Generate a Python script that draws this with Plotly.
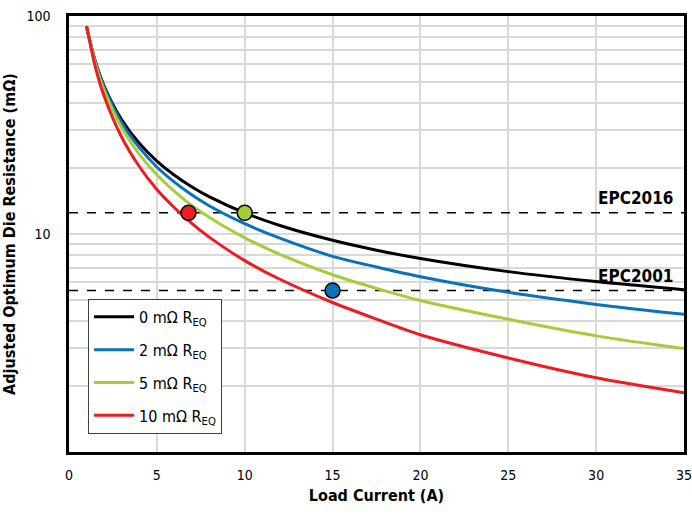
import math
import plotly.graph_objects as go

current = [1, 1.5, 2, 3, 4, 5, 6, 7, 8, 10, 12, 15, 17.5, 20, 25, 30, 35]
r_0m = [89, 61.8, 47.7, 33.4, 26.05, 21.6, 18.6, 16.44, 14.81, 12.5, 10.94, 9.36, 8.43, 7.72, 6.72, 6.05, 5.55]
r_2m = [89.5, 61.7, 47.2, 32.4, 24.9, 20.3, 17.3, 15.1, 13.45, 11.15, 9.57, 7.9, 7.06, 6.37, 5.40, 4.75, 4.28]
r_5m = [90, 60.5, 45.6, 30.7, 23.2, 18.7, 15.7, 13.5, 11.9, 9.6, 8.07, 6.5, 5.63, 4.95, 4.06, 3.41, 2.98]
r_10m = [90, 58.3, 42.85, 27.8, 20.4, 16.0, 13.2, 11.15, 9.65, 7.55, 6.2, 4.85, 4.07, 3.45, 2.70, 2.19, 1.87]

series_names = ["0 mΩ R<sub>EQ</sub>", "2 mΩ R<sub>EQ</sub>", "5 mΩ R<sub>EQ</sub>", "10 mΩ R<sub>EQ</sub>"]
series_colors = ["#000000", "#0b72b9", "#a5cd39", "#ed1c24"]

epc_names = ["EPC2016", "EPC2001"]
epc_values = [12.5, 5.5]

marker_x = [6.8, 10, 15]
marker_y = [12.5, 12.5, 5.5]
marker_colors = ["#ed1c24", "#a5cd39", "#0b72b9"]

x_ticks = [0, 5, 10, 15, 20, 25, 30, 35]
y_ticks = [10, 100]
y_minor = [2, 3, 4, 5, 6, 7, 8, 9, 20, 30, 40, 50, 60, 70, 80, 90]

FONT = "DejaVu Sans Condensed, Liberation Sans Narrow, sans-serif"
GRID = "#d9d9d9"

fig = go.Figure()

for name, val in zip(epc_names, epc_values):
    fig.add_trace(go.Scatter(x=[0, 35], y=[val, val], mode="lines",
                             line=dict(color="#000000", width=1.5, dash="dash"),
                             showlegend=False, hoverinfo="skip"))
    fig.add_annotation(x=34.5, y=math.log10(val), xref="x", yref="y", text="<b>" + name + "</b>",
                       showarrow=False, xanchor="right", yanchor="bottom", yshift=3,
                       font=dict(family=FONT, size=17, color="#000000"))

for i, (name, col, vals) in enumerate(zip(series_names, series_colors, [r_0m, r_2m, r_5m, r_10m])):
    fig.add_trace(go.Scatter(x=current, y=vals, mode="lines", name=name, legendgroup="g%d" % i,
                             line=dict(color=col, width=3, shape="spline", smoothing=0.8)))

fig.add_trace(go.Scatter(x=marker_x, y=marker_y, mode="markers", showlegend=False,
                         marker=dict(size=15, color=marker_colors,
                                     line=dict(color="#000000", width=1.5))))

fig.update_layout(
    width=692, height=516,
    margin=dict(l=69, r=8, t=16, b=64, autoexpand=False),
    plot_bgcolor="#ffffff", paper_bgcolor="#ffffff",
    font=dict(family=FONT, size=14, color="#000000"),
    legend=dict(x=0.031, y=0.351, xanchor="left", yanchor="top",
                bgcolor="#ffffff", bordercolor="#404040", borderwidth=1,
                font=dict(family=FONT, size=16), tracegroupgap=9,
                itemwidth=40),
    xaxis=dict(range=[0, 35], tickvals=x_ticks, showgrid=True, gridcolor=GRID, gridwidth=1.5,
               showline=True, linecolor="#000000", linewidth=2.5, mirror=True,
               zeroline=False, ticks="", ticklabelstandoff=8, automargin=False,
               ticklabeloverflow="allow",
               title=dict(text="<b>Load Current (A)</b>", font=dict(family=FONT, size=16), standoff=9)),
    yaxis=dict(type="log", range=[0, 2], tickvals=y_ticks,
               showgrid=True, gridcolor=GRID, gridwidth=1.5,
               minor=dict(tickvals=y_minor, showgrid=True, gridcolor=GRID, gridwidth=1.5, ticks=""),
               showline=True, linecolor="#000000", linewidth=2.5, mirror=True,
               zeroline=False, ticks="", ticklabelstandoff=13, automargin=False,
               title=dict(text="<b>Adjusted Optimum Die Resistance (mΩ)</b>", font=dict(family=FONT, size=16), standoff=8)),
)

fig.write_html("out.html", config={"displayModeBar": False},
               post_script="document.body.style.margin='0';document.body.style.overflow='hidden';")
